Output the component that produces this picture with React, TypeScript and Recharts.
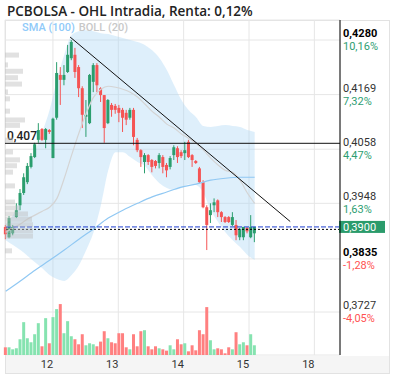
import React from 'react';
import {
  ComposedChart,
  BarChart,
  Bar,
  Line,
  Area,
  XAxis,
  YAxis,
  CartesianGrid,
  ReferenceLine,
  Cell,
} from 'recharts';

const W = 394;
const H = 378;
const X_AXIS_H = 23;
const FONT = 'Roboto, "Noto Sans", sans-serif';

const GREEN = '#2b9e6e';
const RED = '#f55454';
const VOL_GREEN = '#86e3b0';
const VOL_RED = '#ff8080';

// intraday candles (OHLC) and volume
const opens = [
  0.39, 0.3879, 0.3887, 0.392, 0.3944, 0.3969, 0.3991, 0.4022, 0.4042, 0.4077,
  0.4099, 0.4077, 0.4097, 0.404, 0.4122, 0.4209, 0.4199, 0.4215, 0.4243, 0.425,
  0.4225, 0.4182, 0.4124, 0.4111, 0.4195, 0.4229, 0.4182, 0.4168, 0.4111, 0.4148,
  0.4146, 0.4142, 0.4138, 0.4132, 0.4122, 0.4138, 0.4077, 0.4056, 0.4032, 0.4046,
  0.4036, 0.4034, 0.403, 0.4042, 0.4026, 0.4022, 0.4046, 0.406, 0.4052, 0.405,
  0.4073, 0.4046, 0.4034, 0.4019, 0.3991, 0.394, 0.3924, 0.3944, 0.3954, 0.393,
  0.392, 0.392, 0.3904, 0.3904, 0.3879, 0.3879, 0.3898, 0.3879, 0.3887,
];
const closes = [
  0.3885, 0.3918, 0.39, 0.3934, 0.3969, 0.4001, 0.4024, 0.4044, 0.4068, 0.4097,
  0.4077, 0.4099, 0.4093, 0.412, 0.4213, 0.4199, 0.4209, 0.425, 0.4276, 0.4215,
  0.4182, 0.4128, 0.4128, 0.4209, 0.4229, 0.4188, 0.4168, 0.4101, 0.4158, 0.4138,
  0.4138, 0.4132, 0.4122, 0.4118, 0.4138, 0.4083, 0.4056, 0.4042, 0.4046, 0.4032,
  0.4022, 0.4024, 0.4046, 0.4022, 0.4015, 0.404, 0.4062, 0.4042, 0.4044, 0.4056,
  0.4042, 0.4036, 0.403, 0.3991, 0.394, 0.3904, 0.3934, 0.395, 0.393, 0.392,
  0.391, 0.391, 0.392, 0.3883, 0.3896, 0.39, 0.3891, 0.39, 0.39,
];
const highs = [
  0.3904, 0.3922, 0.3904, 0.3948, 0.3977, 0.4009, 0.403, 0.405, 0.4071, 0.4111,
  0.4101, 0.4101, 0.4099, 0.4122, 0.4235, 0.4225, 0.4229, 0.427, 0.428, 0.4264,
  0.4229, 0.4186, 0.4158, 0.4211, 0.4233, 0.4233, 0.4184, 0.4168, 0.416, 0.4152,
  0.415, 0.4148, 0.4142, 0.4138, 0.4142, 0.4142, 0.4081, 0.4058, 0.405, 0.4048,
  0.4038, 0.4036, 0.405, 0.4046, 0.403, 0.4044, 0.4066, 0.4064, 0.4056, 0.4073,
  0.4077, 0.4048, 0.4036, 0.4022, 0.3995, 0.3944, 0.3948, 0.3958, 0.3956, 0.3932,
  0.3922, 0.3922, 0.393, 0.3914, 0.3898, 0.39, 0.39, 0.3924, 0.39,
];
const lows = [
  0.3875, 0.3877, 0.3883, 0.3918, 0.3934, 0.3965, 0.3987, 0.4019, 0.404, 0.4071,
  0.4075, 0.406, 0.4089, 0.404, 0.4118, 0.4148, 0.4188, 0.4213, 0.4239, 0.4203,
  0.4164, 0.4101, 0.4083, 0.4109, 0.4174, 0.4174, 0.4154, 0.4071, 0.4109, 0.4124,
  0.413, 0.4113, 0.4093, 0.4107, 0.4118, 0.4066, 0.4052, 0.4022, 0.4009, 0.4026,
  0.4011, 0.4019, 0.4019, 0.4009, 0.4001, 0.4017, 0.4036, 0.403, 0.404, 0.4036,
  0.404, 0.4022, 0.4028, 0.3989, 0.3938, 0.3853, 0.3908, 0.393, 0.392, 0.391,
  0.3908, 0.3908, 0.3902, 0.3873, 0.3873, 0.3873, 0.3887, 0.3877, 0.3869,
];
const volumes = [
  23, 23, 17, 20, 47, 98, 50, 38, 62, 95,
  26, 110, 35, 113, 137, 152, 65, 101, 56, 47,
  32, 62, 29, 35, 32, 26, 40, 71, 50, 38,
  35, 65, 65, 23, 17, 62, 26, 71, 74, 26,
  17, 26, 20, 17, 13, 29, 17, 47, 32, 35,
  11, 29, 14, 74, 62, 143, 44, 17, 20, 17,
  5, 23, 17, 68, 32, 38, 29, 62, 29,
];

// Bollinger (20) bands, read every second bar
const bollIdx = [
  0, 2, 4, 6, 8, 10, 12, 14, 16, 18, 20, 22, 24, 26, 28, 30, 32, 34,
  36, 38, 40, 42, 44, 46, 48, 50, 52, 54, 56, 58, 60, 62, 64, 66, 68,
];
const bollUpper = [
  0.3904, 0.3924, 0.3958, 0.4005, 0.4052, 0.4093, 0.4138, 0.4199, 0.425, 0.429,
  0.4298, 0.43, 0.4298, 0.4294, 0.4292, 0.4288, 0.4284, 0.428, 0.4276, 0.427,
  0.4259, 0.4243, 0.4219, 0.4188, 0.4158, 0.4137, 0.4123, 0.4105, 0.4103, 0.4105,
  0.4107, 0.4105, 0.4103, 0.4097, 0.4093,
];
const bollMid = [
  0.3889, 0.3898, 0.3906, 0.3916, 0.3924, 0.3932, 0.394, 0.3958, 0.3999, 0.4046,
  0.4091, 0.4131, 0.4164, 0.418, 0.4186, 0.4184, 0.418, 0.4174, 0.4164, 0.415,
  0.4135, 0.4123, 0.4109, 0.4101, 0.4089, 0.408, 0.407, 0.4056, 0.404, 0.4026,
  0.4015, 0.4011, 0.3995, 0.3969, 0.3948,
];
const bollLower = [
  0.3873, 0.3863, 0.3853, 0.3841, 0.3828, 0.3816, 0.3802, 0.3794, 0.379, 0.3802,
  0.3822, 0.3853, 0.3889, 0.3944, 0.4015, 0.4052, 0.4052, 0.4042, 0.4032, 0.4024,
  0.4005, 0.3989, 0.3979, 0.3975, 0.3979, 0.3987, 0.3985, 0.3969, 0.3934, 0.391,
  0.3889, 0.3873, 0.3859, 0.3843, 0.3833,
];

// SMA (100)
const smaIdx = [0, 4, 8, 12, 16, 20, 24, 28, 32, 36, 40, 44, 48, 52, 56, 60, 64, 68];
const sma100 = [
  0.3769, 0.379, 0.3812, 0.3832, 0.3853, 0.3875, 0.3896, 0.3918, 0.3934,
  0.3948, 0.3961, 0.3971, 0.3981, 0.3987, 0.3995, 0.3999, 0.4001, 0.4001,
];

// volume-at-price profile on the left edge
const profilePrice = [
  0.4249, 0.4229, 0.4216, 0.4203, 0.419, 0.4174, 0.416, 0.4135, 0.4117, 0.4106,
  0.4076, 0.4052, 0.4036, 0.4024, 0.4011, 0.3983, 0.395, 0.3938, 0.3926, 0.3915,
  0.3904, 0.3892, 0.3881, 0.3851,
];
const profileVol = [14, 3, 18, 13, 17, 3, 5, 5, 20, 15, 8, 8, 15, 12, 8, 10, 10, 15, 23, 27, 28, 28, 28, 7];

const priceTicks = [0.428, 0.4169, 0.4058, 0.3948, 0.3835, 0.3727];
const pctLabels = ['10,16%', '7,32%', '4,47%', '1,63%', '-1,28%', '-4,05%'];
const boldTicks = [0.428, 0.3835];

const dayTicks = [12.9, 30.75, 48.6, 66.45, 84.3];
const dayLabels = ['12', '13', '14', '15', '18'];

const lastPrice = 0.39;
const prevClose = 0.3895;
const supportLevel = 0.407;
const trendStart = { x: 17.6, y: 0.4286 };
const trendEnd = { x: 77.7, y: 0.3911 };

const priceDomain = [0.36396, 0.43207];
const xDomain = [-0.19, 91.3];

const candles = opens.map((o, i) => ({
  i,
  open: o,
  close: closes[i],
  high: highs[i],
  low: lows[i],
  vol: volumes[i],
}));
const boll = bollIdx.map((i, k) => ({ i, upper: bollUpper[k], mid: bollMid[k], lower: bollLower[k] }));
const sma = smaIdx.map((i, k) => ({ i, sma: sma100[k] }));
const profile = profilePrice.map((p, k) => ({ p, v: profileVol[k] }));

const fmtPrice = (v: number) => v.toFixed(4).replace('.', ',');

function CandleShape(props: any) {
  const { x, y, width, height, payload } = props;
  if (!payload) return null;
  const { open, close, high, low } = payload;
  const top = Math.min(y, y + height);
  const h = Math.abs(height);
  const span = high - low;
  const k = span > 0 ? h / span : 0;
  const bodyTop = top + (high - Math.max(open, close)) * k;
  const bodyH = Math.max(1, Math.abs(open - close) * k);
  const cx = x + width / 2;
  const color = close >= open ? GREEN : RED;
  return (
    <g>
      <line x1={cx} x2={cx} y1={top} y2={top + h} stroke={color} strokeWidth={1} />
      <rect x={x} y={bodyTop} width={width} height={bodyH} fill={color} />
    </g>
  );
}

function PriceTick(props: any) {
  const { x, y, payload } = props;
  const k = priceTicks.indexOf(payload.value);
  const bold = boldTicks.includes(payload.value);
  const pct = pctLabels[k] || '';
  return (
    <g fontFamily={FONT} fontSize={11}>
      <text x={x} y={y - 3} fill={bold ? '#000' : '#333'} fontWeight={bold ? 700 : 400}>
        {fmtPrice(payload.value)}
      </text>
      <text x={x} y={y + 10} fill={pct.startsWith('-') ? '#ff5252' : '#2e9e72'}>
        {pct}
      </text>
    </g>
  );
}

// the axis line sits X_AXIS_H above the bottom; labels go in the grey strip below it
function DayTick(props: any) {
  const { x, payload } = props;
  const k = dayTicks.indexOf(payload.value);
  return (
    <text x={x - 6} y={H - X_AXIS_H + 13} textAnchor="middle" fontFamily={FONT} fontSize={11} fill="#333">
      {dayLabels[k]}
    </text>
  );
}

function LevelLabel(props: any) {
  const vb = props.viewBox || {};
  return (
    <text x={vb.x + 2} y={vb.y - 3} fontFamily={FONT} fontSize={12} fontWeight={500} fill="#222">
      0,407
    </text>
  );
}

function PriceTag(props: any) {
  const vb = props.viewBox || {};
  const right = vb.x + vb.width;
  return (
    <g>
      <rect x={right - 1} y={vb.y - 6} width={46} height={12} fill="#2b9b6b" />
      <text x={right + 3} y={vb.y + 4} fontFamily={FONT} fontSize={11} fill="#fff">
        {fmtPrice(lastPrice)}
      </text>
    </g>
  );
}

export default function App() {
  return (
    <div style={{ position: 'absolute', left: 0, top: 0, width: W, height: H, background: '#fff', fontFamily: FONT }}>
      <div
        style={{
          position: 'absolute',
          left: 5,
          top: 20,
          width: 385,
          height: 354,
          boxSizing: 'border-box',
          border: '1px solid #e2e2e2',
        }}
      />
      <div style={{ position: 'absolute', left: 6, top: 356, width: 383, height: 17, background: '#f5f5f5' }} />
      <div
        style={{
          position: 'absolute',
          left: 7,
          top: 4,
          fontFamily: '"Open Sans", Roboto, sans-serif',
          fontSize: 13.5,
          lineHeight: '14px',
          fontWeight: 600,
          color: '#222',
          whiteSpace: 'nowrap',
        }}
      >
        PCBOLSA - OHL Intradia, Renta: 0,12%
      </div>

      <div style={{ position: 'absolute', left: 0, top: 0 }}>
        <ComposedChart width={W} height={H} data={candles} margin={{ top: 20, right: 0, bottom: 0, left: 5 }}>
          <CartesianGrid xAxisId="x" yAxisId="price" stroke="#e6e6e6" />
          <XAxis
            xAxisId="x"
            dataKey="i"
            type="number"
            domain={xDomain}
            ticks={dayTicks}
            interval={0}
            height={X_AXIS_H}
            tickSize={0}
            tickMargin={0}
            tick={<DayTick />}
            axisLine={{ stroke: '#000' }}
            tickLine={false}
          />
          <XAxis xAxisId="vx" dataKey="i" type="number" domain={xDomain} hide />
          <YAxis
            yAxisId="price"
            orientation="right"
            type="number"
            domain={priceDomain}
            ticks={priceTicks}
            interval={0}
            width={54}
            tickSize={0}
            tickMargin={3}
            tick={<PriceTick />}
            axisLine={{ stroke: '#000' }}
            tickLine={false}
          />
          <YAxis yAxisId="vol" type="number" domain={[0, 1000]} hide />

          <Area
            xAxisId="x"
            yAxisId="price"
            data={boll}
            dataKey={(d: any) => [d.lower, d.upper]}
            type="monotone"
            stroke="none"
            fill="#a9d6f5"
            fillOpacity={0.38}
            isAnimationActive={false}
          />
          <Line
            xAxisId="x"
            yAxisId="price"
            data={boll}
            dataKey="mid"
            type="monotone"
            stroke="#d4d4d4"
            strokeWidth={1.2}
            dot={false}
            isAnimationActive={false}
          />
          <Line
            xAxisId="x"
            yAxisId="price"
            data={sma}
            dataKey="sma"
            type="monotone"
            stroke="#90c8f3"
            strokeWidth={1.2}
            dot={false}
            isAnimationActive={false}
          />
          <Bar xAxisId="vx" yAxisId="vol" dataKey="vol" barSize={3} isAnimationActive={false}>
            {candles.map((c) => (
              <Cell key={c.i} fill={c.close >= c.open ? VOL_GREEN : VOL_RED} />
            ))}
          </Bar>
          <Bar
            xAxisId="x"
            yAxisId="price"
            dataKey={(d: any) => [d.low, d.high]}
            barSize={3}
            shape={(p: any) => <CandleShape {...p} />}
            isAnimationActive={false}
          />

          <ReferenceLine xAxisId="x" yAxisId="price" y={supportLevel} stroke="#111" strokeWidth={1} label={<LevelLabel />} />
          <ReferenceLine xAxisId="x" yAxisId="price" y={prevClose} stroke="#000" strokeDasharray="2 2" />
          <ReferenceLine
            xAxisId="x"
            yAxisId="price"
            y={lastPrice}
            stroke="#1f3fd1"
            strokeDasharray="5 2"
            label={<PriceTag />}
          />
          <ReferenceLine xAxisId="x" yAxisId="price" segment={[trendStart, trendEnd]} stroke="#111" strokeWidth={1} />
        </ComposedChart>
      </div>

      <div style={{ position: 'absolute', left: 0, top: 0, pointerEvents: 'none' }}>
        <BarChart width={W} height={H} data={profile} layout="vertical" margin={{ top: 20, right: 54, bottom: 23, left: 5 }}>
          <XAxis type="number" domain={[0, 335]} hide />
          <YAxis type="number" dataKey="p" domain={priceDomain} hide reversed />
          <Bar dataKey="v" barSize={5} fill="#bdbdbd" fillOpacity={0.45} isAnimationActive={false} />
        </BarChart>
      </div>

      <div
        style={{
          position: 'absolute',
          left: 22,
          top: 22,
          fontSize: 11,
          lineHeight: '12px',
          fontWeight: 500,
          whiteSpace: 'nowrap',
        }}
      >
        <span style={{ color: '#90caf9' }}>SMA (100)</span>
        <span style={{ color: '#c8c8c8', marginLeft: 4 }}>BOLL (20)</span>
      </div>
    </div>
  );
}
